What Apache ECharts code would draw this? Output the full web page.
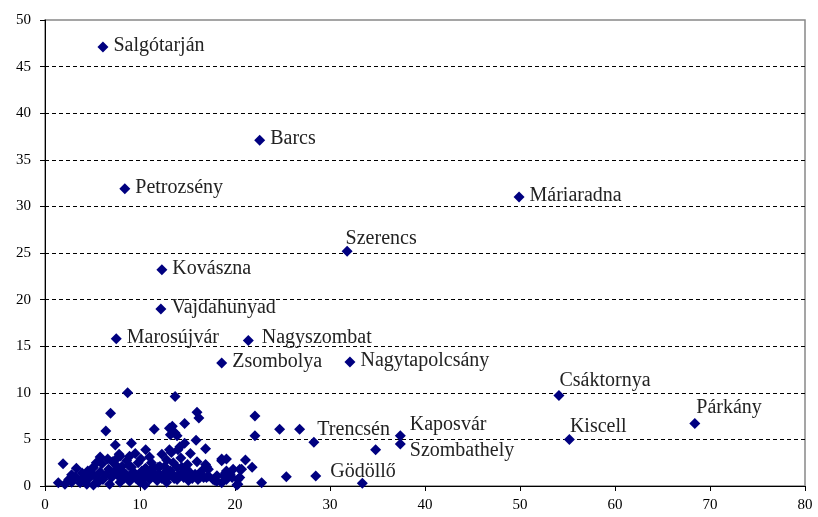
<!DOCTYPE html>
<html>
<head>
<meta charset="utf-8">
<script src="https://cdn.jsdelivr.net/npm/echarts@6/dist/echarts.min.js"></script>
<style>
  html, body { margin: 0; padding: 0; background: #fff; }
  #chart { width: 818px; height: 517px; }
</style>
</head>
<body>
<div id="chart"></div>
<script>
// named towns: [x, y]
var townNames = ['Salgótarján', 'Barcs', 'Petrozsény', 'Máriaradna', 'Szerencs', 'Kovászna',
  'Vajdahunyad', 'Marosújvár', 'Nagyszombat', 'Zsombolya', 'Nagytapolcsány', 'Csáktornya',
  'Párkány', 'Kiscell', 'Trencsén', 'Kaposvár', 'Szombathely', 'Gödöllő'];
var townX = [6.1, 22.6, 8.4, 49.9, 31.8, 12.3, 12.2, 7.5, 21.4, 18.6, 32.1, 54.1, 68.4, 55.2, 28.3, 37.4, 37.4, 28.5];
var townY = [47.1, 37.1, 31.9, 31.0, 25.2, 23.2, 19.0, 15.8, 15.6, 13.2, 13.3, 9.7, 6.7, 5.0, 4.7, 5.4, 4.5, 1.07];

// the rest of the towns (unlabelled), [x, y]
var otherPoints = [
  [8.7,10.0],[13.7,9.6],[6.9,7.8],[16.0,7.9],[16.2,7.3],[22.1,7.5],[6.4,5.9],[11.5,6.1],[13.1,6.2],[13.4,6.4],
  [13.2,5.5],[13.7,5.7],[13.9,5.4],[14.7,6.7],[22.1,5.4],[24.7,6.1],[26.8,6.1],[15.9,4.9],[16.9,4.0],[7.4,4.4],
  [9.1,4.6],[10.6,3.9],[5.8,3.1],[1.9,2.4],[3.3,1.9],[13.1,3.9],[13.3,3.6],[14.2,4.2],[14.7,4.6],[14.0,3.9],
  [16.0,2.6],[18.6,2.9],[19.1,2.9],[21.1,2.8],[7.9,3.2],[8.9,3.2],[7.8,3.4],[8.1,2.1],[5.0,1.9],[5.1,2.0],
  [10.6,1.9],[11.4,2.0],[12.1,2.1],[17.0,2.1],[17.2,1.8],[19.8,1.8],[20.5,1.8],[21.8,2.0],[22.8,0.36],[25.4,1.0],
  [33.4,0.3],[34.8,3.9],
  [8.6,2.7],[9.1,2.0],[9.8,2.5],[10.5,1.8],[11.2,2.5],[11.9,2.0],[12.6,2.1],[13.2,1.6],[13.9,2.0],[14.4,1.25],
  [15.1,1.6],[15.8,1.25],[14.9,1.8],[14.4,2.0],[15.3,1.1],[16.3,1.4],[16.7,0.9],[17.7,0.7],[18.1,0.5],[18.6,0.36],
  [18.1,1.1],[18.8,1.1],[19.1,1.6],[19.5,1.25],[20.3,0.7],[20.3,0.2],[19.0,1.4],[19.7,0.9],[16.5,1.6],[16.3,0.9],
  [17.2,1.07],[16.9,2.3],[18.6,2.7],[20.7,1.8],[20.5,0.9],
  [1.4,0.36],[2.1,0.2],[2.8,0.4],[3.7,0.36],[4.4,0.2],[5.1,0.1],[5.6,0.4],[6.8,0.2],[7.9,0.4],[8.9,0.5],
  [10.0,0.4],[10.5,0.1],[11.8,0.6],[12.8,0.4],[13.9,0.7],[15.1,0.6],[16.1,0.7],[17.0,0.9],[17.9,0.6],[19.1,0.7],
  [20.2,0.1],[2.5,0.7],[3.2,1.0],[3.8,0.6],[4.2,1.1],[4.6,0.8],[5.0,1.3],[5.4,0.9],[5.8,1.5],[6.1,0.7],
  [6.4,1.2],[6.7,1.8],[7.0,0.9],[7.2,1.5],[7.5,2.2],[7.7,1.1],[8.0,1.7],[8.3,0.8],[8.5,1.3],[8.8,2.2],
  [9.0,1.0],[9.3,1.5],[9.6,0.8],[9.9,1.2],[10.2,1.6],[10.4,0.9],[10.8,1.3],[11.0,0.7],[11.3,1.5],[11.6,1.0],
  [12.0,1.3],[12.3,0.8],[12.7,1.5],[13.0,1.0],[13.4,1.3],[13.6,0.8],[14.1,1.2],[14.6,0.9],[15.5,0.8],[6.0,2.4],
  [6.6,2.9],[7.1,2.6],[7.6,3.0],[5.4,2.5],[4.5,1.6],[3.9,1.4],[2.8,1.2],[9.5,3.5],[10.1,2.9],[12.3,3.4],
  [12.8,2.8],[11.0,3.1],[14.3,3.0],[15.3,3.5],[13.5,2.5],[15.0,2.3]
];

// label nudges for the names that sit above/below their marker
var labelShift = {
  'Szerencs': [-12, -12], 'Csáktornya': [-10, -15], 'Párkány': [-9, -16], 'Kiscell': [-10, -13],
  'Trencsén': [-7, -12], 'Kaposvár': [-1, -11], 'Szombathely': [-1, 7], 'Gödöllő': [4, -4],
  'Nagyszombat': [3, -3]
};

var serif = '"Liberation Serif", "DejaVu Serif", serif';
var navy = '#000080';

var townData = townNames.map(function(n, i) {
  return {
    name: n,
    value: [townX[i], townY[i]],
    label: { offset: labelShift[n] || [0, -1] }
  };
});

var myChart = echarts.init(document.getElementById('chart'));

var option = {
  backgroundColor: '#fff',
  animation: false,
  grid: {
    left: 45, right: 13, top: 20, bottom: 31,
    show: true, borderColor: '#888', borderWidth: 1.5
  },
  xAxis: {
    type: 'value', min: 0, max: 80, interval: 10,
    axisLine: { show: true, onZero: false, lineStyle: { color: '#000', width: 1 } },
    axisTick: { show: true, length: 5, lineStyle: { color: '#000' } },
    axisLabel: { color: '#000', fontFamily: serif, fontSize: 15, margin: 12 },
    splitLine: { show: false }
  },
  yAxis: {
    type: 'value', min: 0, max: 50, interval: 5,
    axisLine: { show: true, lineStyle: { color: '#000', width: 1 } },
    axisTick: { show: true, length: 5, lineStyle: { color: '#000' } },
    axisLabel: { color: '#000', fontFamily: serif, fontSize: 15, margin: 14 },
    splitLine: { show: true, showMaxLine: false, showMinLine: false,
      lineStyle: { color: '#000', type: [4, 3], width: 1 } }
  },
  series: [
    {
      type: 'scatter',
      symbol: 'diamond',
      symbolSize: 11,
      itemStyle: { color: navy, opacity: 1 },
      data: otherPoints,
      z: 2
    },
    {
      type: 'scatter',
      symbol: 'diamond',
      symbolSize: 11,
      itemStyle: { color: navy, opacity: 1 },
      data: townData,
      label: {
        show: true, position: 'right', distance: 5,
        formatter: '{b}', color: '#222', fontFamily: serif, fontSize: 20
      },
      z: 3
    }
  ]
};

myChart.setOption(option);
</script>
</body>
</html>
